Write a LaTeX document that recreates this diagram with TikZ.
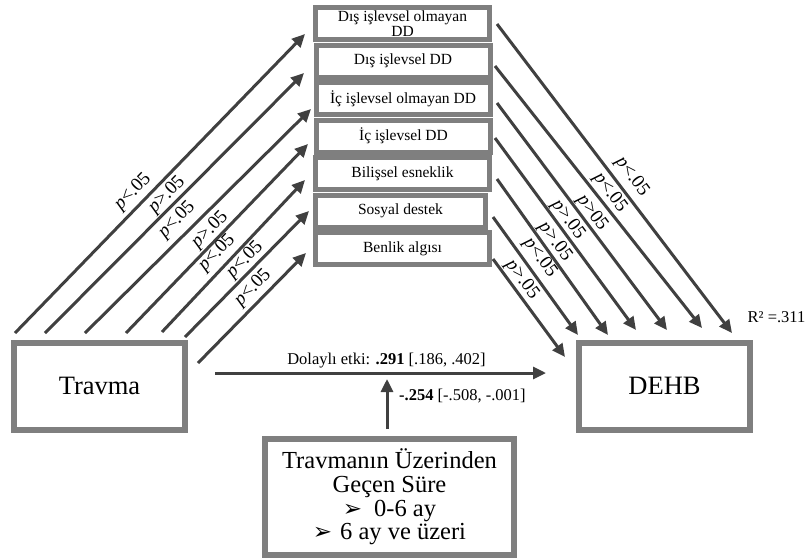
\documentclass[tikz,border=0pt]{standalone}
\usepackage{fontspec}
\setmainfont{Liberation Serif}
\newfontfamily\dingfont{DejaVu Sans}
\usetikzlibrary{arrows.meta}
\definecolor{boxgray}{HTML}{7F7F7F}
\definecolor{arrgray}{HTML}{404040}
\newcommand{\bulletarrow}{{\dingfont\fontsize{23}{23}\selectfont ➢}}
\begin{document}
\begin{tikzpicture}[x=1pt,y=-1pt,
  midbox/.style={draw=boxgray, line width=5pt, fill=white, minimum width=174pt,
    minimum height=32pt, inner sep=0pt, align=center,
    font=\fontsize{15.5}{16}\selectfont},
  bigbox/.style={draw=boxgray, line width=6pt, fill=white, minimum width=171pt,
    minimum height=87pt, inner sep=0pt, font=\fontsize{26.5}{30}\selectfont},
  arr/.style={draw=arrgray, line width=3pt, -{Triangle[length=13pt,width=12pt]}},
  plab/.style={inner sep=0pt, font=\fontsize{19}{19}\selectfont},
  smalllab/.style={inner sep=0pt, font=\fontsize{16.5}{18}\selectfont}]
\useasboundingbox (0,0) rectangle (810,558);

% mediators
\node[midbox] (m1) at (402.5,23.5)
  {\raisebox{-2.5pt}[\height][\depth]{\begin{tabular}{@{}c@{}}Dış işlevsel olmayan\\[-1pt]DD\end{tabular}}};
\node[midbox] (m2) at (403,61)    {Dış işlevsel DD};
\node[midbox] (m3) at (403,98.5)  {İç işlevsel olmayan DD};
\node[midbox] (m4) at (403.5,136) {İç işlevsel DD};
\node[midbox] (m5) at (402.5,173.5) {Bilişsel esneklik};
\node[midbox, minimum width=170pt] (m6) at (400.5,211) {Sosyal destek};
\node[midbox] (m7) at (402.5,248.5) {Benlik algısı};

% predictor, outcome, moderator
\node[bigbox] (travma) at (99.5,386) {Travma};
\node[bigbox] (dehb) at (664.5,386) {DEHB};
\node[draw=boxgray, line width=6pt, fill=white, minimum width=249pt, minimum height=116pt,
  inner sep=0pt, align=center, font=\fontsize{24.5}{23.8}\selectfont] (sure) at (389.5,497)
  {Travmanın Üzerinden\\Geçen Süre\\\bulletarrow\hspace{12pt}0-6 ay\\\bulletarrow\hspace{8pt}6 ay ve üzeri};

% arrows from Travma to mediators
\coordinate (a1) at (15,333);  \coordinate (b1) at (305,34);
\coordinate (a2) at (45,333);  \coordinate (b2) at (304,73);
\coordinate (a3) at (85,333);  \coordinate (b3) at (311,109);
\coordinate (a4) at (126,333); \coordinate (b4) at (308,144);
\coordinate (a5) at (162,332); \coordinate (b5) at (305,180);
\coordinate (a6) at (185,337); \coordinate (b6) at (309,211);
\coordinate (a7) at (198,363); \coordinate (b7) at (306,253);
\foreach \i in {1,...,7} {\draw[arr] (a\i) -- (b\i);}

% arrows from mediators to DEHB
\coordinate (c1) at (497,24);  \coordinate (d1) at (732,333);
\coordinate (c2) at (495,66);  \coordinate (d2) at (702,328);
\coordinate (c3) at (497,103); \coordinate (d3) at (667,330);
\coordinate (c4) at (495,138); \coordinate (d4) at (636,330);
\coordinate (c5) at (497,179); \coordinate (d5) at (608,335);
\coordinate (c6) at (493,217); \coordinate (d6) at (578,335);
\coordinate (c7) at (493,259); \coordinate (d7) at (565,357);
\foreach \i in {1,...,7} {\draw[arr] (c\i) -- (d\i);}

% significance labels, left side
\node[plab, rotate=46] (pl1) at (133,192) {\textit{p}<.05};
\node[plab, rotate=46] (pl2) at (167,195) {\textit{p}>.05};
\node[plab, rotate=46] (pl3) at (177,220) {\textit{p}<.05};
\node[plab, rotate=46] (pl4) at (210,230) {\textit{p}>.05};
\node[plab, rotate=46] (pl5) at (217,253) {\textit{p}<.05};
\node[plab, rotate=46] (pl6) at (245,260) {\textit{p}<.05};
\node[plab, rotate=46] (pl7) at (253,288) {\textit{p}<.05};

% significance labels, right side
\node[plab, rotate=-53.5] (pr1) at (632,177) {\textit{p}<.05};
\node[plab, rotate=-53.5] (pr2) at (610,193) {\textit{p}<.05};
\node[plab, rotate=-53.5] (pr3) at (592,213) {\textit{p}>05};
\node[plab, rotate=-53.5] (pr4) at (568,220) {\textit{p}>.05};
\node[plab, rotate=-53.5] (pr5) at (555,242) {\textit{p}>.05};
\node[plab, rotate=-53.5] (pr6) at (540,258) {\textit{p}<.05};
\node[plab, rotate=-53.5] (pr7) at (522,280) {\textit{p}>.05};

\node[smalllab] (r2) at (776.5,317) {R² =.311};

% indirect effect and moderation
\coordinate (h1) at (215,373); \coordinate (h2) at (546,373);
\draw[arr] (h1) -- (h2);
\node[smalllab] (ind) at (386.5,361) {Dolaylı etki: \textbf{.291} [.186, .402]};
\coordinate (v2) at (387,379);
\draw[arr] (sure.north -| v2) ++(0,-7) coordinate (v1) (v1) -- (v2);
\node[smalllab, anchor=west] (mod) at (399,396) {\textbf{-.254} [-.508, -.001]};
\end{tikzpicture}
\end{document}
